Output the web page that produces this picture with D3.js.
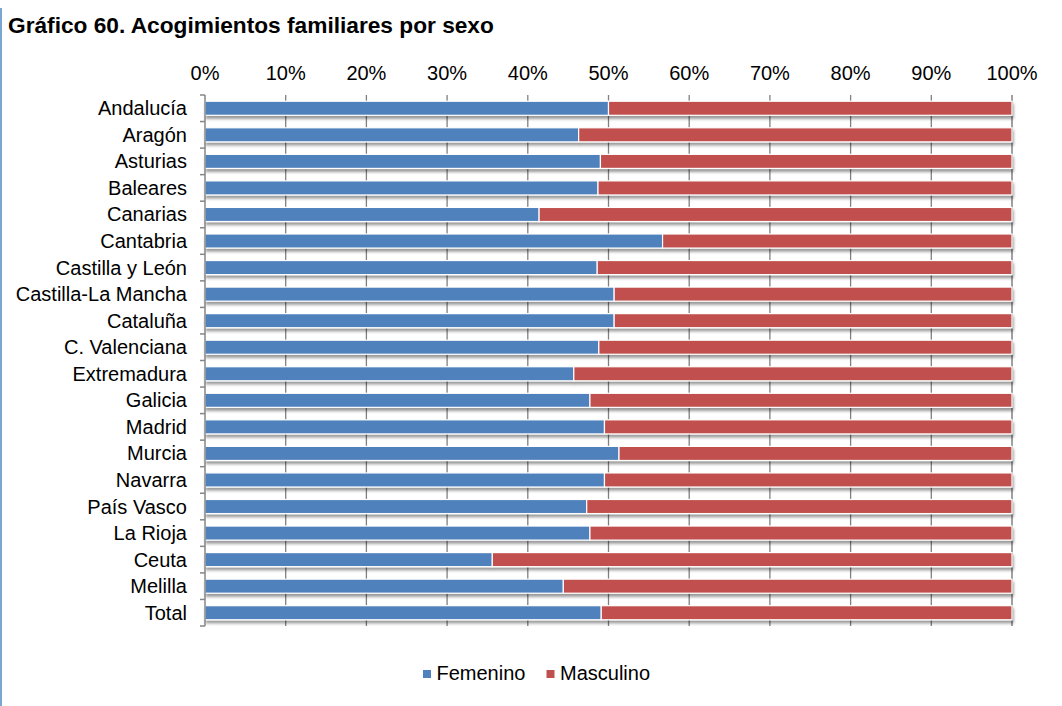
<!DOCTYPE html>
<html>
<head>
<meta charset="utf-8">
<script src="https://cdn.jsdelivr.net/npm/d3@7"></script>
<style>
  html, body { margin: 0; padding: 0; background: #fff; }
  svg { display: block; font-family: "Liberation Sans", Arial, sans-serif; }
</style>
</head>
<body>
<svg id="chart" width="1062" height="706"></svg>
<script>
const categories = ["Andalucía","Aragón","Asturias","Baleares","Canarias","Cantabria","Castilla y León","Castilla-La Mancha","Cataluña","C. Valenciana","Extremadura","Galicia","Madrid","Murcia","Navarra","País Vasco","La Rioja","Ceuta","Melilla","Total"];
const femenino = [50.0,46.3,49.0,48.7,41.4,56.7,48.6,50.7,50.7,48.8,45.7,47.7,49.5,51.3,49.5,47.3,47.7,35.6,44.4,49.1];
const masculino = femenino.map(v => 100 - v);
const seriesNames = ["Femenino","Masculino"];
const seriesColors = ["#4F81BD","#C0504D"];
const tickValues = [0,10,20,30,40,50,60,70,80,90,100];
const title = "Gráfico 60. Acogimientos familiares por sexo";

const svg = d3.select("#chart");
const pLeft = 205, pRight = 1012, pTop = 95, pBottom = 626;

const x = d3.scaleLinear().domain([0,100]).range([pLeft,pRight]);
const y = d3.scaleBand().domain(categories).range([pTop,pBottom]).paddingInner(0.47).paddingOuter(0.235);

// shadow filter
const defs = svg.append("defs");
const f = defs.append("filter").attr("id","sh").attr("x","-5%").attr("y","-50%").attr("width","110%").attr("height","250%");
f.append("feDropShadow").attr("dx",1).attr("dy",3).attr("stdDeviation",1.6).attr("flood-color","#000").attr("flood-opacity",0.4);

// left frame line
svg.append("line").attr("x1",1).attr("x2",1).attr("y1",8).attr("y2",706).attr("stroke","#7aa6d2").attr("stroke-width",2);

// title
svg.append("text").attr("x",8).attr("y",33).attr("font-size","22.7px").attr("font-weight","bold").attr("fill","#000").text(title);

// gridlines
svg.append("g").selectAll("line").data(tickValues.filter(d => d > 0)).join("line")
  .attr("x1",d => x(d)).attr("x2",d => x(d)).attr("y1",pTop).attr("y2",pBottom)
  .attr("stroke","#808080").attr("stroke-width",d => d === 100 ? 1.5 : 1.3);

// top axis labels
svg.append("g").selectAll("text").data(tickValues).join("text")
  .attr("x",d => x(d)).attr("y",79.5).attr("text-anchor","middle").attr("font-size","20px").attr("fill","#000")
  .text(d => d + "%");

// stacked bars
const stackData = categories.map((c,i) => ({cat:c, Femenino:femenino[i], Masculino:masculino[i]}));
const stack = d3.stack().keys(seriesNames)(stackData);
const gBars = svg.append("g").attr("filter","url(#sh)");
stack.forEach((s,si) => {
  gBars.append("g").selectAll("rect").data(s).join("rect")
    .attr("x",d => x(d[0])).attr("width",d => x(d[1]) - x(d[0]))
    .attr("y",d => y(d.data.cat)).attr("height",y.bandwidth())
    .attr("fill",seriesColors[si]).attr("stroke","#fff").attr("stroke-width",1.2);
});

// left axis
svg.append("line").attr("x1",pLeft).attr("x2",pLeft).attr("y1",pTop).attr("y2",pBottom).attr("stroke","#868686").attr("stroke-width",1.5);
const bounds = d3.range(categories.length + 1).map(i => pTop + i * (pBottom - pTop) / categories.length);
svg.append("g").selectAll("line").data(bounds).join("line")
  .attr("x1",pLeft - 5).attr("x2",pLeft).attr("y1",d => d).attr("y2",d => d)
  .attr("stroke","#868686").attr("stroke-width",1.5);

// category labels
svg.append("g").selectAll("text").data(categories).join("text")
  .attr("x",187).attr("y",d => y(d) + y.bandwidth()/2 + 7)
  .attr("text-anchor","end").attr("font-size","20px").attr("fill","#000").text(d => d);

// legend
const legendX = [423, 546.5];
const lg = svg.append("g");
seriesNames.forEach((n,i) => {
  lg.append("rect").attr("x",legendX[i]).attr("y",670).attr("width",8).attr("height",8).attr("fill",seriesColors[i]);
  lg.append("text").attr("x",legendX[i] + 13.5).attr("y",679.5).attr("font-size","20px").attr("fill","#000").text(n);
});
</script>
</body>
</html>
